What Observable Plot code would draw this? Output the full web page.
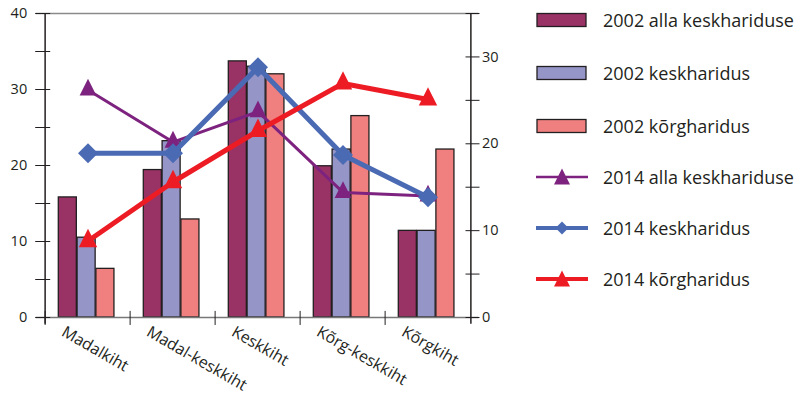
<!DOCTYPE html>
<html>
<head>
<meta charset="utf-8">
<script src="https://cdn.jsdelivr.net/npm/d3@7"></script>
<script src="https://cdn.jsdelivr.net/npm/@observablehq/plot@0.6"></script>
<style>
  html, body { margin: 0; padding: 0; background: #fff; }
  #wrap { position: relative; width: 801px; height: 397px; font-family: "Open Sans", sans-serif; color: #231f20; }
  #legend { position: absolute; left: 530px; top: 0; }
  .row { position: absolute; left: 0; height: 24px; display: flex; align-items: center; white-space: nowrap; font-size: 18px; }
  .row svg { margin-right: 13px; flex: none; }
</style>
</head>
<body>
<div id="wrap"><div id="legend"></div></div>
<script>
const categories = ["Madalkiht", "Madal-keskkiht", "Keskkiht", "Kõrg-keskkiht", "Kõrgkiht"];
const bars2002Alla = [15.8, 19.4, 33.7, 19.9, 11.4];
const bars2002Kesk = [10.5, 23.2, 33.0, 22.1, 11.4];
const bars2002Korg = [6.4, 12.9, 32.0, 26.5, 22.1];
const line2014Alla = [26.2, 20.2, 23.7, 14.4, 14.0];
const line2014Kesk = [18.9, 18.9, 28.8, 18.7, 13.85];
const line2014Korg = [8.8, 15.6, 21.5, 26.95, 25.1];
const leftTicks = [0, 5, 10, 15, 20, 25, 30, 35, 40];
const leftLabels = [0, 10, 20, 30, 40];
const rightTicks = [0, 5, 10, 15, 20, 25, 30, 35];
const rightLabels = [0, 10, 20, 30];
const seriesNames = ["2002 alla keskhariduse", "2002 keskharidus", "2002 kõrgharidus",
                     "2014 alla keskhariduse", "2014 keskharidus", "2014 kõrgharidus"];

const colors = {alla02: "#993366", kesk02: "#9595c8", korg02: "#f08080",
                alla14: "#7d237f", kesk14: "#4a6ab4", korg14: "#ed1c24"};

const W = 801, H = 397, ML = 42.7, MR = 801 - 471.5, MT = 13, MB = 80;
const bw = (W - ML - MR) / categories.length;
const k = 40 / 35; // right axis (0–35) mapped onto left scale (0–40)
const barStart = 13.3, barW = 18.8;

// isosceles triangle as tall as it is wide (like the reference markers)
const tallTriangle = {
  draw(ctx, size) {
    const r = Math.sqrt(size / Math.PI);
    ctx.moveTo(0, -r * 4 / 3);
    ctx.lineTo(r, r * 2 / 3);
    ctx.lineTo(-r, r * 2 / 3);
    ctx.closePath();
  }
};

const rows = (vals) => categories.map((c, i) => ({cat: c, v: vals[i]}));

function barMark(vals, idx, fill) {
  const left = barStart + idx * barW;
  return Plot.barY(rows(vals), {x: "cat", y: "v", fill, stroke: "#231f20", strokeWidth: 1.3,
    insetLeft: left, insetRight: bw - left - barW});
}
function lineMarks(vals, stroke, strokeWidth, symbol, r) {
  const d = rows(vals);
  return [
    Plot.line(d, {x: "cat", y: (p) => p.v * k, stroke, strokeWidth}),
    Plot.dot(d, {x: "cat", y: (p) => p.v * k, symbol, r, fill: stroke, stroke: "none"})
  ];
}

const chart = Plot.plot({
  width: W, height: H, marginLeft: ML, marginRight: MR, marginTop: MT, marginBottom: MB,
  x: {type: "band", domain: categories, padding: 0, axis: null},
  y: {domain: [0, 40]},
  style: {fontFamily: "Open Sans, sans-serif", fontSize: "14px", color: "#231f20", background: "transparent", overflow: "visible"},
  marks: [
    Plot.ruleY([40], {stroke: "#8a8a8a", strokeWidth: 1.5, insetLeft: -7, insetRight: -7}),
    barMark(bars2002Alla, 0, colors.alla02),
    barMark(bars2002Kesk, 1, colors.kesk02),
    barMark(bars2002Korg, 2, colors.korg02),
    Plot.ruleY([0], {stroke: "#777", strokeWidth: 1.5, insetLeft: -7, insetRight: -7}),
    Plot.ruleX(categories, {x: (d) => d, dx: -bw / 2, y1: -1.05, y2: 0.8, stroke: "#231f20", strokeWidth: 1}),
    Plot.ruleX([categories[0]], {x: (d) => d, dx: -bw / 2, y1: -0.9, y2: 40, stroke: "#231f20", strokeWidth: 1.5}),
    Plot.ruleX([categories[4]], {x: (d) => d, dx: bw / 2, y1: -0.9, y2: 40, stroke: "#231f20", strokeWidth: 1.5}),
    Plot.axisY({ticks: leftTicks, tickSize: 15, dx: 7.5, tickFormat: () => "", label: null, stroke: "#231f20"}),
    Plot.axisY({ticks: leftLabels, tickSize: 0, tickPadding: 16, label: null, fontSize: 14.5}),
    Plot.axisY({anchor: "right", ticks: rightTicks.map((v) => v * k), tickSize: 14, dx: -7, tickFormat: () => "", label: null}),
    Plot.axisY({anchor: "right", ticks: rightLabels.map((v) => v * k), tickSize: 0, tickPadding: 10,
      tickFormat: (d) => String(Math.round(d / k)), label: null, fontSize: 14.5}),
    ...lineMarks(line2014Alla, colors.alla14, 3, tallTriangle, 8.4),
    ...lineMarks(line2014Kesk, colors.kesk14, 5, "diamond2", 9),
    ...lineMarks(line2014Korg, colors.korg14, 5, tallTriangle, 9.2),
    Plot.text(categories, {x: (d) => d, y: () => 0, text: (d) => d, rotate: 30, textAnchor: "start",
      lineAnchor: "middle", dx: -25, dy: 13, fontSize: 16, fill: "#231f20"})
  ]
});
document.getElementById("wrap").prepend(chart);
chart.style.position = "absolute"; chart.style.left = "0"; chart.style.top = "0";

// legend
const legend = document.getElementById("legend");
const legendY = [20, 72.7, 125.7, 176.7, 227.7, 279.3];
const swatch = [
  `<rect x="7" y="5.5" width="49" height="13" fill="${colors.alla02}" stroke="#231f20" stroke-width="1.3"/>`,
  `<rect x="7" y="5.5" width="49" height="13" fill="${colors.kesk02}" stroke="#231f20" stroke-width="1.3"/>`,
  `<rect x="7" y="5.5" width="49" height="13" fill="${colors.korg02}" stroke="#231f20" stroke-width="1.3"/>`,
  `<line x1="6" x2="58" y1="12" y2="12" stroke="${colors.alla14}" stroke-width="2.5"/><path d="M32,3.5 L40,19.5 L24,19.5 Z" fill="${colors.alla14}"/>`,
  `<line x1="6" x2="58" y1="12" y2="12" stroke="${colors.kesk14}" stroke-width="4"/><path d="M32,5.5 L38.5,12 L32,18.5 L25.5,12 Z" fill="${colors.kesk14}"/>`,
  `<line x1="6" x2="58" y1="12" y2="12" stroke="${colors.korg14}" stroke-width="4"/><path d="M32,3.5 L40,19.5 L24,19.5 Z" fill="${colors.korg14}"/>`
];
seriesNames.forEach((name, i) => {
  const row = document.createElement("div");
  row.className = "row";
  row.style.top = (legendY[i] - 12) + "px";
  row.innerHTML = `<svg width="60" height="24">${swatch[i]}</svg><span>${name}</span>`;
  legend.appendChild(row);
});
</script>
</body>
</html>
